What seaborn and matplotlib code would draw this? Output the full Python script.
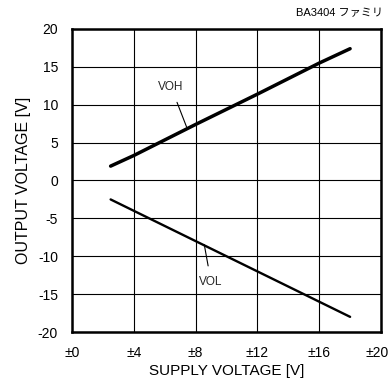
import matplotlib
matplotlib.use("Agg")
import matplotlib.pyplot as plt
import matplotlib.transforms as mtransforms
import seaborn as sns
import pandas as pd

# Supply voltage (±V) and measured output swing
supply_v = [2.5, 4, 8, 12, 16, 18]
voh = [1.9, 3.3, 7.4, 11.4, 15.5, 17.4]
vol = [-2.5, -4.0, -8.0, -12.0, -16.0, -18.0]

x_ticks = [0, 4, 8, 12, 16, 20]
x_tick_labels = ["±0", "±4", "±8", "±12", "±16", "±20"]
y_ticks = [20, 15, 10, 5, 0, -5, -10, -15, -20]

sns.set_theme(style="white")
plt.rcParams["font.family"] = ["Liberation Sans", "Noto Sans CJK JP", "DejaVu Sans"]
plt.rcParams["axes.unicode_minus"] = False

df = pd.DataFrame({"supply": supply_v, "VOH": voh, "VOL": vol})

fig = plt.figure(figsize=(3.91, 3.85), dpi=100)
ax = fig.add_axes([72 / 391, 1 - 332 / 385, 309 / 391, 303 / 385])

sns.lineplot(data=df, x="supply", y="VOH", ax=ax, color="black", linewidth=2.5)
sns.lineplot(data=df, x="supply", y="VOL", ax=ax, color="black", linewidth=1.7)

ax.set_xlim(0, 20)
ax.set_ylim(-20, 20)
ax.set_xticks(x_ticks)
ax.set_xticklabels(x_tick_labels)
ax.set_yticks(y_ticks)
ax.grid(True, color="black", linewidth=0.8)
ax.tick_params(axis="both", length=0, labelsize=10, colors="black", pad=10)
for s in ax.spines.values():
    s.set_color("black")
    s.set_linewidth(1.8)

# keep the last x tick label inside the canvas
last = ax.get_xticklabels()[-1]
last.set_transform(last.get_transform() +
                   mtransforms.ScaledTranslation(-4 / 100, 0, fig.dpi_scale_trans))

ax.set_xlabel("SUPPLY VOLTAGE [V]", fontsize=11, color="black", labelpad=3)
ax.set_ylabel("OUTPUT VOLTAGE [V]", fontsize=11.5, color="black", labelpad=5)

# Curve labels with leader lines
ax.annotate("VOH", xy=(7.42, 7.05), xytext=(6.4, 12.4), fontsize=8.5,
            ha="center", va="center",
            arrowprops=dict(arrowstyle="-", color="black", linewidth=0.8,
                            shrinkA=5, shrinkB=0))
ax.annotate("VOL", xy=(8.56, -8.45), xytext=(9.0, -13.4), fontsize=8.5,
            ha="center", va="center",
            arrowprops=dict(arrowstyle="-", color="black", linewidth=0.8,
                            shrinkA=5, shrinkB=0))

fig.text(383 / 391, 1 - 13 / 385, "BA3404 ファミリ", ha="right", va="center",
         fontsize=8, color="black")

fig.savefig("out.png", dpi=100)
